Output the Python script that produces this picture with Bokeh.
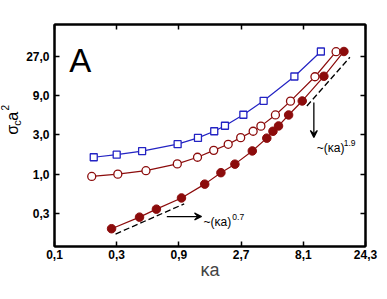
from bokeh.plotting import figure
from bokeh.models import LogAxis, FixedTicker, Label, Arrow, VeeHead, Range1d
from bokeh.layouts import row
from bokeh.embed import file_html
from bokeh.resources import INLINE
import math

# ---- data ----
x_ticks = [0.1, 0.3, 0.9, 2.7, 8.1, 24.3]
x_tick_labels = ["0,1", "0,3", "0,9", "2,7", "8,1", "24,3"]
y_ticks = [1 / 3, 1.0, 3.0, 9.0, 27.0]
y_tick_labels = ["0,3", "1,0", "3,0", "9,0", "27,0"]

blue_x = [0.20, 0.30, 0.47, 0.88, 1.26, 1.68, 2.03, 2.81, 4.02, 6.92, 11.05]
blue_y = [1.60, 1.72, 1.90, 2.31, 2.75, 3.31, 3.86, 5.25, 7.76, 15.3, 30.8]

open_x = [0.193, 0.306, 0.503, 0.875, 1.25, 1.665, 2.15, 2.68, 3.34, 3.83, 4.95, 6.46, 9.95, 14.45]
open_y = [0.936, 0.998, 1.10, 1.33, 1.60, 1.94, 2.30, 2.77, 3.31, 3.82, 5.22, 7.68, 15.2, 30.6]

filled_x = [0.274, 0.449, 0.605, 0.942, 1.42, 1.89, 2.42, 3.29, 4.25, 4.74, 5.23, 6.25, 7.95, 11.65, 16.6]
filled_y = [0.217, 0.300, 0.375, 0.513, 0.755, 1.04, 1.32, 1.91, 2.73, 3.31, 3.84, 5.22, 7.72, 15.4, 30.8]

guide_low_x = [0.294, 0.988]
guide_low_y = [0.187, 0.435]
guide_high_x = [8.63, 18.45]
guide_high_y = [6.71, 26.2]

BLUE = "#2323c3"
RED = "#8c0c0c"
FONT = "Liberation Sans"

# ---- narrow strip holding the y-axis title (sigma_c a^2) ----
LW = 23
yl = figure(width=LW, height=299, x_range=Range1d(0, LW), y_range=Range1d(0, 299),
            x_axis_location=None, y_axis_location=None, title=None,
            output_backend="svg", toolbar_location=None, min_border=0)
yl.grid.visible = False
yl.outline_line_color = None
yl.background_fill_color = "white"
yl.border_fill_color = "white"

r = math.pi / 2


def ylab(x, y, t, size):
    yl.add_layout(Label(x=x, y=y, text=t, text_font=FONT, text_font_size=size,
                        text_align="center", text_baseline="middle", text_color="black",
                        angle=r))


# centres of each piece, (x, y) in the strip's pixel frame (y counted from the bottom)
ylab(12.0, 157.0, "σ", "16px")
ylab(16.5, 166.5, "c", "11px")
ylab(12.0, 175.5, "a", "16px")
ylab(4.5, 186.8, "2", "10px")

# ---- main plot ----
p = figure(width=387 - LW, height=299, x_axis_type="log", y_axis_type="log",
           x_range=Range1d(0.1, 24.3), y_range=Range1d(0.132, 65.5),
           output_backend="svg", toolbar_location=None,
           min_border_left=52 - LW, min_border_right=22, min_border_top=24, min_border_bottom=53)
p.grid.visible = False
p.outline_line_color = "black"
p.outline_line_width = 2
p.background_fill_color = "white"
p.border_fill_color = "white"


def style(ax, ticks, labels, show, standoff):
    ax.ticker = FixedTicker(ticks=ticks, minor_ticks=[])
    ax.major_tick_in = 5
    ax.major_tick_out = 0
    ax.minor_tick_in = 0
    ax.minor_tick_out = 0
    ax.axis_line_width = 2
    ax.major_tick_line_width = 1.5
    ax.major_label_text_font = FONT
    ax.major_label_text_font_style = "bold"
    if show:
        ax.major_label_overrides = dict(zip(ticks, labels))
        ax.major_label_text_color = "black"
        ax.major_label_text_font_size = "12px"
        ax.major_label_standoff = standoff
    else:
        # mirror axis: ticks only, labels not drawn
        ax.major_label_text_color = None
        ax.major_label_text_font_size = "6px"
        ax.major_label_standoff = 0


style(p.xaxis[0], x_ticks, x_tick_labels, True, 3)
style(p.yaxis[0], y_ticks, y_tick_labels, True, 5)
p.xaxis[0].axis_label = "κa"
p.xaxis[0].axis_label_text_font = FONT
p.xaxis[0].axis_label_text_font_style = "normal"
p.xaxis[0].axis_label_text_font_size = "18px"
p.xaxis[0].axis_label_standoff = -2

top = LogAxis()
right = LogAxis()
style(top, x_ticks, x_tick_labels, False, 0)
style(right, y_ticks, y_tick_labels, False, 0)
p.add_layout(top, "above")
p.add_layout(right, "right")

# guide lines
p.line(guide_low_x, guide_low_y, line_color="black", line_width=1.3, line_dash="6 3")
p.line(guide_high_x, guide_high_y, line_color="black", line_width=1.3, line_dash="6 3")

# series
p.line(blue_x, blue_y, line_color=BLUE, line_width=1.2)
p.scatter(blue_x, blue_y, marker="square", size=7, fill_color="white", line_color=BLUE, line_width=1.3)
p.line(open_x, open_y, line_color=RED, line_width=1.2)
p.scatter(open_x, open_y, marker="circle", size=8, fill_color="white", line_color=RED, line_width=1.3)
p.line(filled_x, filled_y, line_color=RED, line_width=1.2)
p.scatter(filled_x, filled_y, marker="circle", size=8.5, fill_color=RED, line_color=RED, line_width=1)

# arrows
p.add_layout(Arrow(end=VeeHead(size=7, line_width=1.2, line_color="black"),
                   x_start=0.727, y_start=0.305, x_end=1.343, y_end=0.305,
                   line_width=1.3, line_color="black"))
p.add_layout(Arrow(end=VeeHead(size=7, line_width=1.2, line_color="black"),
                   x_start=9.76, y_start=7.40, x_end=9.76, y_end=2.78,
                   line_width=1.3, line_color="black"))


def lab(x, y, t, size, align="left"):
    p.add_layout(Label(x=x, y=y, text=t, text_font=FONT, text_font_size=size,
                       text_align=align, text_baseline="alphabetic", text_color="black"))


lab(1.391, 0.2618, "~(κa)", "12px")
lab(2.314, 0.305, "0.7", "8.5px")
lab(10.28, 2.10, "~(κa)", "12px")
lab(16.52, 2.417, "1.9", "8.5px")
lab(0.130, 23.9, "A", "33px")

layout = row(yl, p)
open("out.html", "w").write(file_html(layout, INLINE))
